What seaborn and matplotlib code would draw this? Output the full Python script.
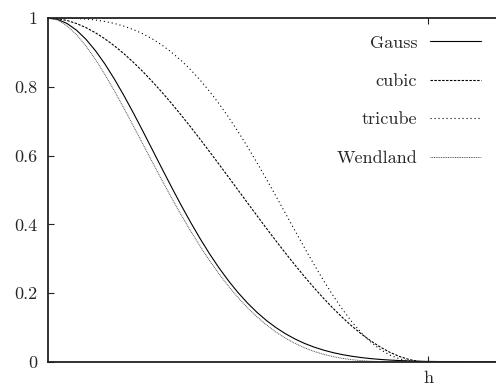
"""
Kernel functions (Gauss, cubic, tricube, Wendland) over the support h.
Values read off the reference plot.
"""
import matplotlib
matplotlib.use("Agg")
import matplotlib.pyplot as plt
import pandas as pd
import seaborn as sns

# distance in units of h
q = [0.0, 0.025, 0.05, 0.075, 0.1, 0.125, 0.15, 0.175, 0.2, 0.225,
     0.25, 0.275, 0.3, 0.325, 0.35, 0.375, 0.4, 0.425, 0.45, 0.475,
     0.5, 0.525, 0.55, 0.575, 0.6, 0.625, 0.65, 0.675, 0.7, 0.725,
     0.75, 0.775, 0.8, 0.825, 0.85, 0.875, 0.9, 0.925, 0.95, 0.975,
     1.0, 1.1, 1.18]

gauss = [1.0, 0.996, 0.9841, 0.9646, 0.938, 0.9048, 0.8659, 0.822, 0.7741, 0.7233,
         0.6703, 0.6163, 0.5621, 0.5087, 0.4566, 0.4066, 0.3592, 0.3147, 0.2736, 0.236,
         0.2019, 0.1714, 0.1443, 0.1205, 0.0999, 0.0821, 0.0669, 0.0541, 0.0434, 0.0346,
         0.0273, 0.0214, 0.0166, 0.0128, 0.0098, 0.0074, 0.0056, 0.0042, 0.0031, 0.0023,
         0.0017, 0.0004, 0.0001]

cubic = [1.0, 0.9982, 0.9928, 0.984, 0.972, 0.957, 0.9393, 0.9188, 0.896, 0.8709,
         0.8438, 0.8147, 0.784, 0.7518, 0.7183, 0.6836, 0.648, 0.6117, 0.5748, 0.5375,
         0.5, 0.4625, 0.4253, 0.3883, 0.352, 0.3164, 0.2818, 0.2482, 0.216, 0.1853,
         0.1563, 0.1291, 0.104, 0.0812, 0.0608, 0.043, 0.028, 0.016, 0.0073, 0.0018,
         0.0, 0.0, 0.0]

tricube = [1.0, 1.0, 0.9996, 0.9987, 0.997, 0.9941, 0.9899, 0.984, 0.9762, 0.9662,
           0.9539, 0.9389, 0.9212, 0.9005, 0.8768, 0.85, 0.82, 0.7869, 0.7508, 0.7117,
           0.6699, 0.6257, 0.5793, 0.5312, 0.4819, 0.4318, 0.3817, 0.332, 0.2836, 0.2371,
           0.1932, 0.1527, 0.1162, 0.0843, 0.0575, 0.036, 0.0199, 0.0091, 0.0029, 0.0004,
           0.0, 0.0, 0.0]

wendland = [1.0, 0.9941, 0.9774, 0.9517, 0.9185, 0.8793, 0.8352, 0.7875, 0.7373, 0.6854,
            0.6328, 0.5802, 0.5282, 0.4775, 0.4284, 0.3815, 0.337, 0.2951, 0.2562, 0.2203,
            0.1875, 0.1578, 0.1312, 0.1077, 0.087, 0.0692, 0.054, 0.0413, 0.0308, 0.0223,
            0.0156, 0.0105, 0.0067, 0.004, 0.0022, 0.0011, 0.0005, 0.0001, 0.0, 0.0,
            0.0, 0.0, 0.0]

labels = ["Gauss", "cubic", "tricube", "Wendland"]
series = [gauss, cubic, tricube, wendland]

ytick_vals = [0, 0.2, 0.4, 0.6, 0.8, 1]
ytick_labels = ["0", "0.2", "0.4", "0.6", "0.8", "1"]
xtick_vals = [1.0]
xtick_labels = ["h"]

# styles (gnuplot-ish)
styles = {
    "Gauss": dict(color="black", linestyle="-", linewidth=0.8),
    "cubic": dict(color="black", linestyle=(0, (2.2, 1.3)), linewidth=0.8),
    "tricube": dict(color="black", linestyle=(0, (1.0, 2.6)), linewidth=0.8),
    "Wendland": dict(color="#555555", linestyle=(0, (1.0, 0.8)), linewidth=0.7),
}

sns.set_style("ticks")
plt.rcParams["font.family"] = ["cmr10", "DejaVu Serif"]
plt.rcParams["axes.formatter.use_mathtext"] = True
plt.rcParams["font.size"] = 13

fig = plt.figure(figsize=(4.96, 3.86), dpi=100)
ax = fig.add_axes([48 / 496, 24 / 386, 448 / 496, 344 / 386])

for name, vals in zip(labels, series):
    df = pd.DataFrame({"q": q, "w": vals})
    sns.lineplot(data=df, x="q", y="w", ax=ax, label=name, **styles[name])

ax.set_xlim(0, 448 / 380)
ax.set_ylim(0, 1)
ax.set_xticks(xtick_vals, xtick_labels)
ax.set_yticks(ytick_vals, ytick_labels)
ax.set_xlabel(None)
ax.set_ylabel(None)

for side in ["left", "bottom", "top"]:
    ax.spines[side].set_color("#222222")
    ax.spines[side].set_linewidth(1.3)
ax.spines["right"].set_visible(False)

ax.tick_params(axis="both", direction="in", length=4, width=0.8,
               color="#222222", labelsize=13)
ax.tick_params(axis="y", pad=8)
ax.tick_params(axis="x", pad=6, top=True)

ax.legend(loc="upper right", bbox_to_anchor=(1.0, 0.994), frameon=False,
          markerfirst=False, fontsize=13, handlelength=2.82, handletextpad=0.72,
          labelspacing=1.26, borderaxespad=0.35, borderpad=0.48)

fig.savefig("out.png", dpi=100)
